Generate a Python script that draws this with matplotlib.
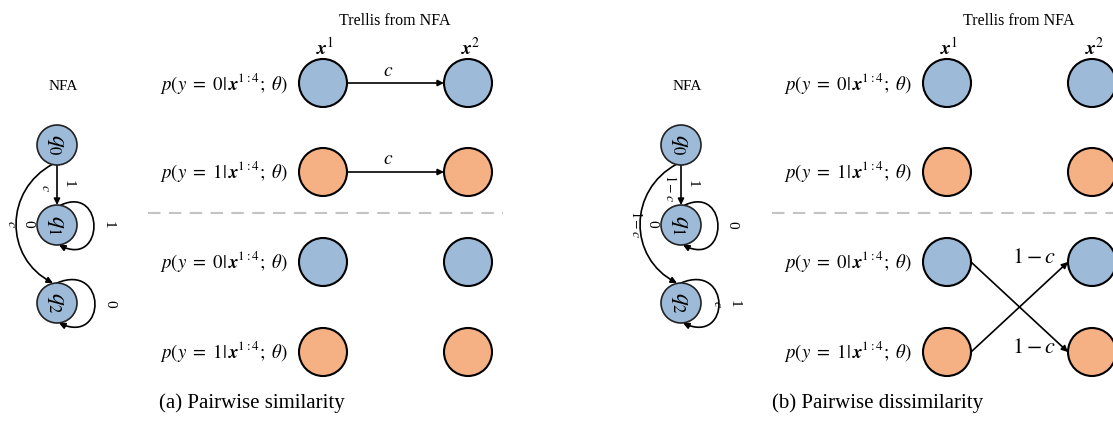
import matplotlib
matplotlib.use("Agg")
import matplotlib.pyplot as plt
from matplotlib.patches import Circle, FancyArrowPatch
from matplotlib.path import Path

plt.rcParams['mathtext.fontset'] = 'stix'
SERIF = 'Liberation Serif'

# ---------------- data ----------------
states = [r"$q_0$", r"$q_1$", r"$q_2$"]
columns = [r"$\mathbfit{x}^1$", r"$\mathbfit{x}^2$"]
row_labels = [r"$p(y\ =\ 0|\,\mathbfit{x}^{1:4};\ \theta)$",
              r"$p(y\ =\ 1|\,\mathbfit{x}^{1:4};\ \theta)$",
              r"$p(y\ =\ 0|\,\mathbfit{x}^{1:4};\ \theta)$",
              r"$p(y\ =\ 1|\,\mathbfit{x}^{1:4};\ \theta)$"]
row_class = [0, 1, 0, 1]
captions = ["(a) Pairwise similarity", "(b) Pairwise dissimilarity"]
# NFA edge labels: (symbol, weight) per edge
nfa_a = {"q0q1": ("1", "$c$"), "q1q1": ("1", ""), "q0q2": ("0", "$c$"), "q2q2": ("0", "")}
nfa_b = {"q0q1": ("1", "$1-c$"), "q1q1": ("0", ""), "q0q2": ("0", "$1-c$"), "q2q2": ("1", "$c$")}
# trellis transitions: (from row, to row, label)
trellis_a = [(0, 0, "$c$"), (1, 1, "$c$")]
trellis_b = [(2, 3, r"$1-c$"), (3, 2, r"$1-c$")]

# ---------------- layout ----------------
BLUE = "#9dbbd9"
ORANGE = "#f5b083"
W, H = 1113, 421
fig = plt.figure(figsize=(W / 100, H / 100), dpi=100)
ax = fig.add_axes([0, 0, 1, 1])
ax.set_xlim(0, W)
ax.set_ylim(H, 0)
ax.axis('off')

node_x = 57
node_y = [145, 225, 303]
node_r = 20
col_x = [323, 468]
row_y = [83, 172, 262, 352]
tr_r = 24


def curve(pts):
    codes = [Path.MOVETO, Path.CURVE4, Path.CURVE4, Path.CURVE4]
    p = FancyArrowPatch(path=Path(pts, codes), arrowstyle='-|>',
                        mutation_scale=9, lw=1.2, color='black', zorder=1)
    ax.add_patch(p)


def draw_panel(dx, nfa, trellis, caption, cap_x):
    # NFA
    ax.text(63 + dx, 87, "NFA", ha='center', va='center', fontsize=11, family=SERIF)
    for i, s in enumerate(states):
        ax.add_patch(Circle((node_x + dx, node_y[i]), node_r, fc=BLUE, ec='#222222', lw=1.2, zorder=2))
        ax.text(node_x + dx, node_y[i], s, rotation=-90, ha='center', va='center',
                fontsize=17, zorder=3)
    # q0 -> q1
    ax.add_patch(FancyArrowPatch((node_x + dx, node_y[0] + node_r), (node_x + dx, node_y[1] - node_r),
                                 arrowstyle='-|>', mutation_scale=9, lw=1.2, color='black',
                                 shrinkA=0, shrinkB=0, zorder=1))
    ax.text(68 + dx, 184, nfa["q0q1"][0], rotation=-90, ha='center', va='center', fontsize=11, family=SERIF)
    ax.text(46 + dx, 188, nfa["q0q1"][1], rotation=-90, ha='center', va='center', fontsize=10)
    # q1 loop
    curve([(node_x + 4 + dx, node_y[1] - node_r), (node_x + 48 + dx, 185),
           (node_x + 48 + dx, 268), (node_x + 2 + dx, node_y[1] + node_r)])
    ax.text(108 + dx, 225, nfa["q1q1"][0], rotation=-90, ha='center', va='center', fontsize=11, family=SERIF)
    # q0 -> q2 arc
    curve([(node_x - 4 + dx, node_y[0] + node_r - 1), (4 + dx, 190),
           (4 + dx, 258), (node_x - 4 + dx, node_y[2] - node_r)])
    ax.text(28 + dx, 224, nfa["q0q2"][0], rotation=-90, ha='center', va='center', fontsize=11, family=SERIF)
    ax.text(12 + dx, 224, nfa["q0q2"][1], rotation=-90, ha='center', va='center', fontsize=10)
    # q2 loop
    curve([(node_x + dx, node_y[2] - node_r), (node_x + 50 + dx, 262),
           (node_x + 50 + dx, 345), (node_x + 2 + dx, node_y[2] + node_r)])
    ax.text(110 + dx, 304, nfa["q2q2"][0], rotation=-90, ha='center', va='center', fontsize=11, family=SERIF)
    if nfa["q2q2"][1]:
        ax.text(94 + dx, 304, nfa["q2q2"][1], rotation=-90, ha='center', va='center', fontsize=10)

    # Trellis
    ax.text(395 + dx, 21, "Trellis from NFA", ha='center', va='center', fontsize=11.5, family=SERIF)
    ax.text(col_x[0] + 2 + dx, 48, columns[0], ha='center', va='center', fontsize=14)
    ax.text(col_x[1] + 3 + dx, 48, columns[1], ha='center', va='center', fontsize=14)
    for r, y in enumerate(row_y):
        ax.text(288 + dx, y, row_labels[r], ha='right', va='center', fontsize=13.5)
        for c in col_x:
            ax.add_patch(Circle((c + dx, y), tr_r, fc=BLUE if row_class[r] == 0 else ORANGE,
                                ec='black', lw=1.5, zorder=2))
    ax.plot([148 + dx, 503 + dx], [213, 213], color='#c4c4c4', lw=1.5, dashes=(6, 4))
    for (r0, r1, lab) in trellis:
        p0 = (col_x[0] + tr_r + dx, row_y[r0])
        p1 = (col_x[1] - tr_r + dx, row_y[r1])
        ax.add_patch(FancyArrowPatch(p0, p1, arrowstyle='-|>', mutation_scale=9, lw=1.2,
                                     color='black', shrinkA=0, shrinkB=0, zorder=1))
        if r0 == r1:
            ax.text(388 + dx, row_y[r0] - 13, lab, ha='center', va='center', fontsize=14)
        else:
            ax.text(410 + dx, row_y[r1] - 5, lab, ha='center', va='center', fontsize=16)
    ax.text(cap_x, 403, caption, ha='center', va='center', fontsize=15, family=SERIF)


draw_panel(0, nfa_a, trellis_a, captions[0], 252)
draw_panel(624, nfa_b, trellis_b, captions[1], 878)

fig.savefig("out.png", dpi=100)
